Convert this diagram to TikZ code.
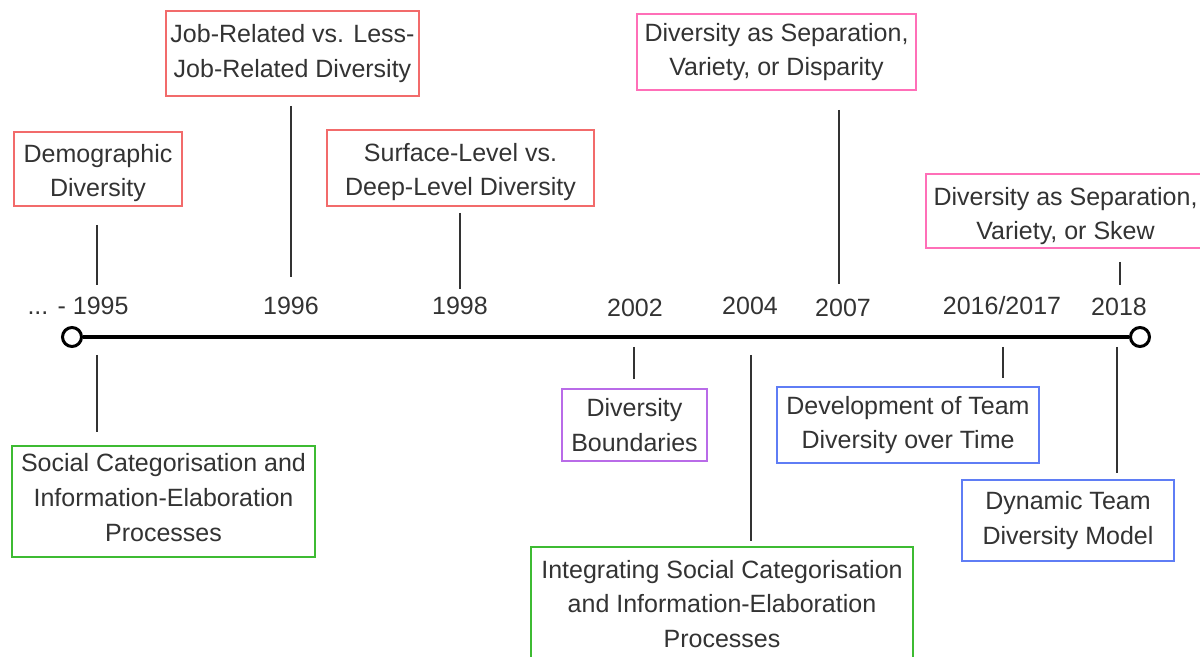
\documentclass[tikz,border=0pt]{standalone}
\usepackage{fontspec}
\setmainfont{Liberation Sans}
\definecolor{txt}{HTML}{333333}
\definecolor{cred}{HTML}{F26B6B}
\definecolor{cpink}{HTML}{FF6FB8}
\definecolor{cgreen}{HTML}{3DBB32}
\definecolor{cpurple}{HTML}{B96BE8}
\definecolor{cblue}{HTML}{5F7DF5}
% move one line of box text up or down by #1, keeping its size
\newcommand{\lineshift}[2]{\raisebox{#1}[\height][\depth]{#2}}
\begin{document}
\begin{tikzpicture}[x=0.5pt,y=-0.5pt,
  every node/.style={text=txt,font=\fontsize{12.5}{17.3}\selectfont},
  topic/.style={draw,line width=1.4pt,fill=white,inner sep=0pt,align=center},
  year/.style={inner sep=0pt,anchor=center},
  tick/.style={draw=txt,line width=1pt},
  axis/.style={draw=black,line width=1.8pt},
  endpt/.style={circle,draw=black,line width=1.5pt,fill=white,inner sep=0pt,minimum size=9.5pt}]
\useasboundingbox (0,0) rectangle (1200,657);

% time axis
\node[endpt] (start) at (72,337) {};
\node[endpt] (stop) at (1140,337) {};
\draw[axis] (start) -- (stop);

% years
\node[year] (y1995) at (78,306) {... - 1995};
\node[year] (y1996) at (291,306) {1996};
\node[year] (y1998) at (460,306) {1998};
\node[year] (y2002) at (635,308) {2002};
\node[year] (y2004) at (750,306) {2004};
\node[year] (y2007) at (843,308) {2007};
\node[year] (y2016) at (1002,306) {2016/2017};
\node[year] (y2018) at (1119,307) {2018};

% concepts above the axis
\node[topic,draw=cred,minimum width=84pt,minimum height=37pt] (demo) at (98,169)
  {\lineshift{-2pt}{Demographic}\\\lineshift{-2pt}{Diversity}};
\node[topic,draw=cred,minimum width=126.5pt,minimum height=42.5pt] (job) at (292.5,53.5)
  {Job-Related vs. Less-\\Job-Related Diversity};
\node[topic,draw=cred,minimum width=133.5pt,minimum height=38pt] (surf) at (460.5,168)
  {\lineshift{-2pt}{Surface-Level vs.}\\\lineshift{-2pt}{Deep-Level Diversity}};
\node[topic,draw=cpink,minimum width=139.5pt,minimum height=38pt] (disp) at (776.5,52)
  {Diversity as Separation,\\Variety, or Disparity};
\node[topic,draw=cpink,minimum width=139.5pt,minimum height=37pt] (skew) at (1065.5,211)
  {\lineshift{-2.5pt}{Diversity as Separation,}\\\lineshift{-2.5pt}{Variety, or Skew}};

% concepts below the axis
\node[topic,draw=cgreen,minimum width=151.5pt,minimum height=55.5pt] (social) at (163.5,501.5)
  {\lineshift{2pt}{Social Categorisation and}\\\lineshift{2pt}{Information-Elaboration}\\\lineshift{2pt}{Processes}};
\node[topic,draw=cpurple,minimum width=72.5pt,minimum height=36pt] (bound) at (634.5,425)
  {Diversity\\Boundaries};
\node[topic,draw=cgreen,minimum width=191pt,minimum height=57pt] (integ) at (722,604)
  {Integrating Social Categorisation\\and Information-Elaboration\\Processes};
\node[topic,draw=cblue,minimum width=131pt,minimum height=38pt] (dev) at (908,425)
  {Development of Team\\Diversity over Time};
\node[topic,draw=cblue,minimum width=106pt,minimum height=40.5pt] (dyn) at (1068,520.5)
  {Dynamic Team\\Diversity Model};

% tick ends
\coordinate (demoA) at (97,225);  \coordinate (demoB) at (97,285);
\coordinate (jobA) at (291,106);  \coordinate (jobB) at (291,277);
\coordinate (surfA) at (460,213); \coordinate (surfB) at (460,289);
\coordinate (dispA) at (839,110); \coordinate (dispB) at (839,284);
\coordinate (skewA) at (1120,262); \coordinate (skewB) at (1120,285);
\coordinate (socA) at (97,355);   \coordinate (socB) at (97,432);
\coordinate (boundA) at (634,347); \coordinate (boundB) at (634,379);
\coordinate (integA) at (751,355); \coordinate (integB) at (751,541);
\coordinate (devA) at (1003,347); \coordinate (devB) at (1003,378);
\coordinate (dynA) at (1117,347); \coordinate (dynB) at (1117,473);

\foreach \t in {demo,job,surf,disp,skew,soc,bound,integ,dev,dyn}
  \draw[tick] (\t A) -- (\t B);
\end{tikzpicture}
\end{document}
